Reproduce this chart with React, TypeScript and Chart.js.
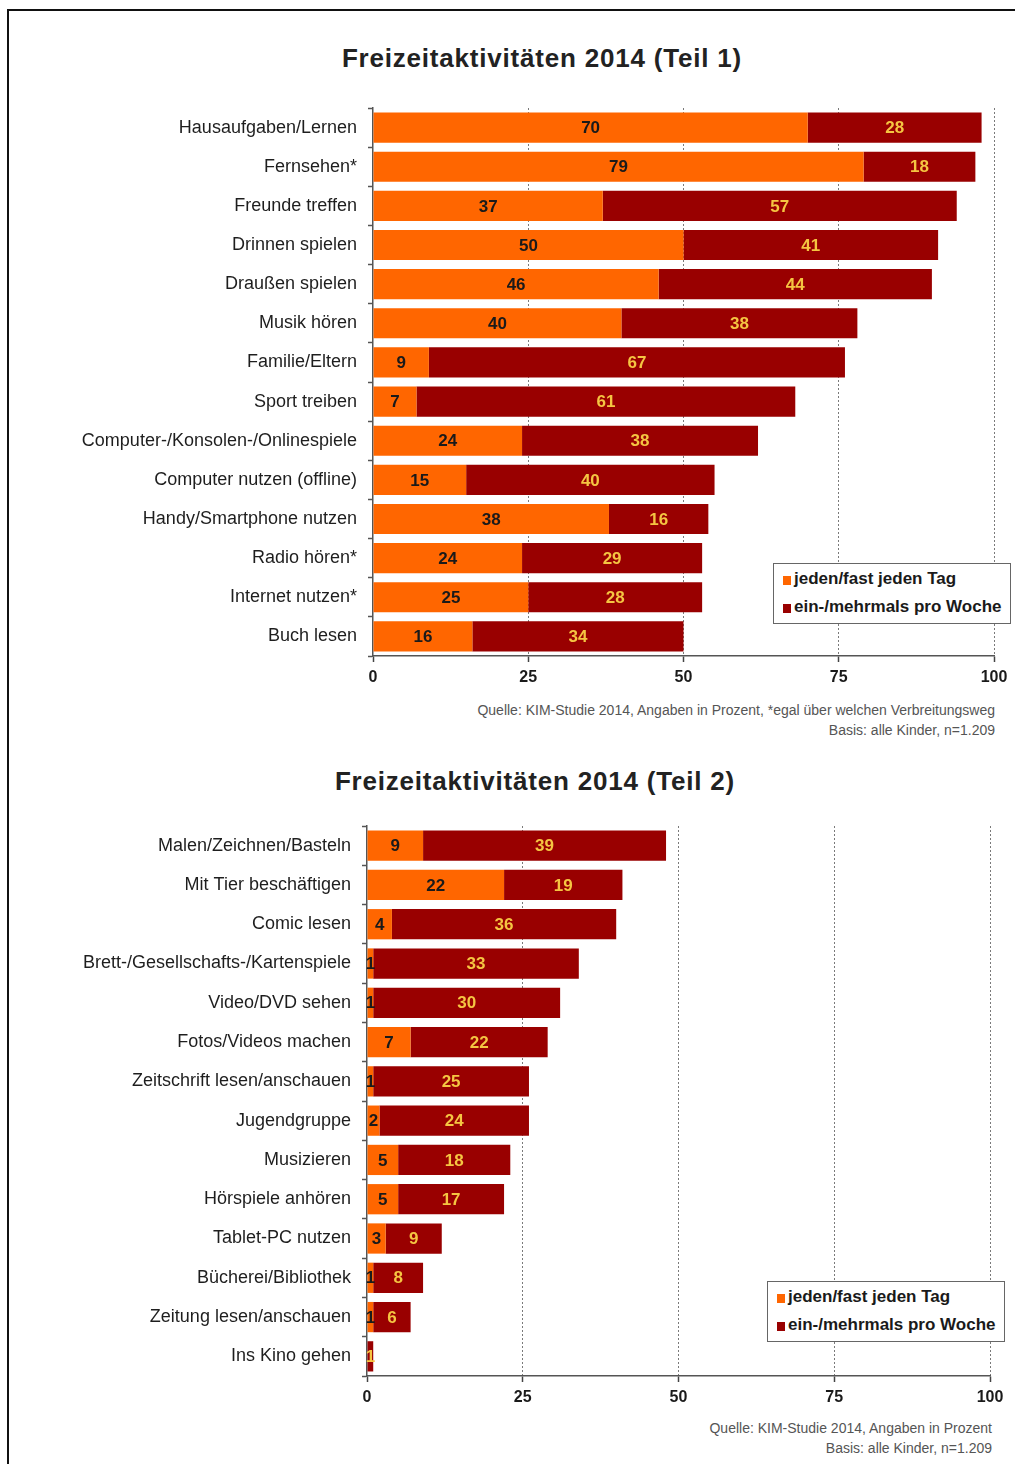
import React, { useEffect, useRef } from "react";
import { Chart, registerables } from "chart.js";

Chart.register(...registerables);

const categories1 = [
  "Hausaufgaben/Lernen",
  "Fernsehen*",
  "Freunde treffen",
  "Drinnen spielen",
  "Draußen spielen",
  "Musik hören",
  "Familie/Eltern",
  "Sport treiben",
  "Computer-/Konsolen-/Onlinespiele",
  "Computer nutzen (offline)",
  "Handy/Smartphone nutzen",
  "Radio hören*",
  "Internet nutzen*",
  "Buch lesen",
];
const daily1 = [70, 79, 37, 50, 46, 40, 9, 7, 24, 15, 38, 24, 25, 16];
const weekly1 = [28, 18, 57, 41, 44, 38, 67, 61, 38, 40, 16, 29, 28, 34];

const categories2 = [
  "Malen/Zeichnen/Basteln",
  "Mit Tier beschäftigen",
  "Comic lesen",
  "Brett-/Gesellschafts-/Kartenspiele",
  "Video/DVD sehen",
  "Fotos/Videos machen",
  "Zeitschrift lesen/anschauen",
  "Jugendgruppe",
  "Musizieren",
  "Hörspiele anhören",
  "Tablet-PC nutzen",
  "Bücherei/Bibliothek",
  "Zeitung lesen/anschauen",
  "Ins Kino gehen",
];
const daily2 = [9, 22, 4, 1, 1, 7, 1, 2, 5, 5, 3, 1, 1, 0];
const weekly2 = [39, 19, 36, 33, 30, 22, 25, 24, 18, 17, 9, 8, 6, 1];

const seriesNames = ["jeden/fast jeden Tag", "ein-/mehrmals pro Woche"];
const axisMin = 0;
const axisMax = 100;
const axisStep = 25;

const title1 = "Freizeitaktivitäten 2014 (Teil 1)";
const title2 = "Freizeitaktivitäten 2014 (Teil 2)";
const source1 = [
  "Quelle: KIM-Studie 2014, Angaben in Prozent, *egal über welchen Verbreitungsweg",
  "Basis: alle Kinder, n=1.209",
];
const source2 = ["Quelle: KIM-Studie 2014, Angaben in Prozent", "Basis: alle Kinder, n=1.209"];

const ORANGE = "#ff6600";
const DARKRED = "#990000";
const YELLOW = "#f5c542";
const FONT = "'Liberation Sans', Arial, sans-serif";

const valueLabels = {
  id: "valueLabels",
  afterDatasetsDraw(chart: any) {
    const ctx = chart.ctx;
    chart.data.datasets.forEach((ds: any, di: number) => {
      const meta = chart.getDatasetMeta(di);
      meta.data.forEach((bar: any, i: number) => {
        const v = ds.data[i];
        if (!v) return;
        const p = bar.getProps(["x", "y", "base"], true);
        const cx = (p.x + p.base) / 2;
        ctx.save();
        ctx.font = `bold 17px ${FONT}`;
        ctx.fillStyle = di === 0 ? "#1a1a1a" : YELLOW;
        ctx.textAlign = "center";
        ctx.textBaseline = "middle";
        ctx.fillText(String(v), cx, p.y + 1);
        ctx.restore();
      });
    });
  },
};

type BarProps = {
  top: number;
  height: number;
  leftWidth: number;
  rightPad: number;
  labels: string[];
  daily: number[];
  weekly: number[];
};

function BarChart(props: BarProps) {
  const ref = useRef<HTMLCanvasElement>(null);
  useEffect(() => {
    const chart = new Chart(ref.current as HTMLCanvasElement, {
      type: "bar",
      data: {
        labels: props.labels,
        datasets: [
          {
            label: seriesNames[0],
            data: props.daily,
            backgroundColor: ORANGE,
            barPercentage: 0.77,
            categoryPercentage: 1,
          },
          {
            label: seriesNames[1],
            data: props.weekly,
            backgroundColor: DARKRED,
            barPercentage: 0.77,
            categoryPercentage: 1,
          },
        ],
      },
      options: {
        indexAxis: "y",
        responsive: false,
        animation: false,
        devicePixelRatio: 1,
        layout: { padding: { left: 0, right: props.rightPad, top: 8, bottom: 0 } },
        plugins: {
          legend: { display: false },
          tooltip: { enabled: false },
          title: { display: false },
        },
        scales: {
          x: {
            type: "linear",
            stacked: true,
            min: axisMin,
            max: axisMax,
            ticks: {
              stepSize: axisStep,
              font: { family: FONT, size: 16, weight: "bold" },
              color: "#1a1a1a",
              padding: 6,
            },
            grid: {
              color: (c: any) => (c.tick && c.tick.value === 0 ? "rgba(0,0,0,0)" : "#7a7a7a"),
              lineWidth: 1,
              drawTicks: true,
              tickLength: 6,
              tickColor: "#444",
              tickWidth: 1.5,
            },
            border: { display: true, color: "#555", width: 1.5, dash: [2, 2] },
            afterFit: (s: any) => {
              s.height = 40;
            },
          },
          y: {
            type: "category",
            stacked: true,
            ticks: {
              font: { family: FONT, size: 18 },
              color: "#1e1e1e",
              padding: 11,
            },
            grid: {
              drawOnChartArea: false,
              drawTicks: true,
              tickLength: 5,
              tickColor: "#555",
              tickWidth: 1.5,
              offset: true,
            },
            border: { display: true, color: "#555", width: 1.5 },
            afterFit: (s: any) => {
              s.width = props.leftWidth;
              s.paddingTop = 0;
              s.paddingBottom = 0;
            },
          },
        },
      } as any,
      plugins: [valueLabels],
    });
    return () => chart.destroy();
  }, []);
  return (
    <canvas
      ref={ref}
      width={1015}
      height={props.height}
      style={{ position: "absolute", left: 0, top: props.top, width: 1015, height: props.height }}
    />
  );
}

function Legend(props: { left: number; top: number }) {
  const row = (color: string, text: string) => (
    <div style={{ display: "flex", alignItems: "center", height: 28 }}>
      <span
        style={{ display: "inline-block", width: 8, height: 9, background: color, marginRight: 3, marginTop: 2 }}
      />
      <span>{text}</span>
    </div>
  );
  return (
    <div
      style={{
        position: "absolute",
        left: props.left,
        top: props.top,
        width: 227,
        height: 58,
        border: "1px solid #666",
        background: "#fff",
        boxSizing: "content-box",
        paddingTop: 1,
        paddingLeft: 9,
        font: `bold 17px ${FONT}`,
        color: "#1a1a1a",
        whiteSpace: "nowrap",
        overflow: "hidden",
      }}
    >
      {row(ORANGE, seriesNames[0])}
      {row(DARKRED, seriesNames[1])}
    </div>
  );
}

function Source(props: { lines: string[]; right: number; top: number }) {
  return (
    <div
      style={{
        position: "absolute",
        right: props.right,
        top: props.top,
        textAlign: "right",
        font: `14px ${FONT}`,
        lineHeight: "20px",
        color: "#555",
        whiteSpace: "nowrap",
      }}
    >
      {props.lines.map((l, i) => (
        <div key={i}>{l}</div>
      ))}
    </div>
  );
}

function Title(props: { text: string; center: number; top: number }) {
  return (
    <div
      style={{
        position: "absolute",
        left: props.center - 300,
        width: 600,
        top: props.top,
        textAlign: "center",
        font: `bold 26px ${FONT}`,
        letterSpacing: "0.8px",
        lineHeight: "30px",
        color: "#222",
      }}
    >
      {props.text}
    </div>
  );
}

export default function App() {
  return (
    <div
      style={{
        position: "absolute",
        left: 0,
        top: 0,
        width: 1015,
        height: 1464,
        background: "#fff",
        overflow: "hidden",
      }}
    >
      <div
        style={{
          position: "absolute",
          left: 7,
          top: 9,
          width: 1015,
          height: 1460,
          borderTop: "2px solid #111",
          borderLeft: "2px solid #111",
        }}
      />
      <Title text={title1} center={542} top={43} />
      <BarChart
        top={100}
        height={596}
        leftWidth={373}
        rightPad={21}
        labels={categories1}
        daily={daily1}
        weekly={weekly1}
      />
      <Legend left={773} top={563} />
      <Source lines={source1} right={20} top={700} />

      <Title text={title2} center={535} top={766} />
      <BarChart
        top={818}
        height={598}
        leftWidth={367}
        rightPad={25}
        labels={categories2}
        daily={daily2}
        weekly={weekly2}
      />
      <Legend left={767} top={1281} />
      <Source lines={source2} right={23} top={1418} />
    </div>
  );
}
